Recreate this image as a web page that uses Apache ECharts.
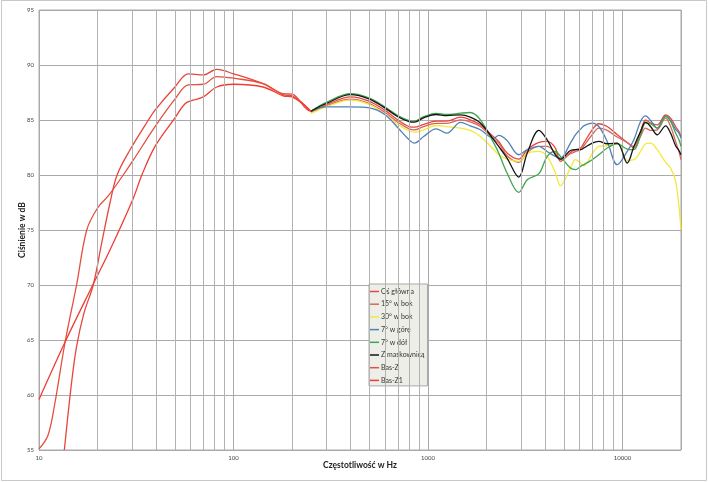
<!DOCTYPE html>
<html>
<head>
<meta charset="utf-8">
<script src="https://cdn.jsdelivr.net/npm/echarts@6/dist/echarts.min.js"></script>
<style>
  html, body { margin: 0; padding: 0; background: #fff; }
  #chart { width: 708px; height: 482px; }
</style>
</head>
<body>
<div id="chart"></div>
<script>
// bass region (Hz / dB)
const freqOsLow = [13.5, 14.7, 15.6, 17, 19, 21, 23.2, 25.2, 29.4, 36.5, 39.5, 50, 58.6, 70, 82, 100, 142, 180, 200];
const dbOsLow   = [55.0, 61.1, 64.4, 67.4, 70, 73.8, 77.5, 80, 82.3, 85, 85.9, 88.0, 89.2, 89.1, 89.6, 89.2, 88.3, 87.4, 87.35];
const freqBasZ  = [10, 11.1, 12, 13.6, 15.6, 17.6, 20, 22.7, 27.1, 30.4, 39.5, 50, 58.6, 70, 82, 100, 142, 180, 200, 250];
const dbBasZ    = [55.1, 56.3, 59, 64.75, 70, 75, 77.0, 78.1, 80, 81.3, 84.4, 86.9, 88.2, 88.25, 88.95, 88.8, 88.3, 87.3, 87.2, 85.8];
const freqBasZ1 = [10, 13.6, 18.9, 23.2, 30.4, 33.8, 39.5, 50, 56.5, 62, 70, 82, 100, 142, 180, 200, 250];
const dbBasZ1   = [59.6, 64.8, 70, 73.2, 77.8, 80, 82.6, 85.2, 86.5, 86.8, 87.1, 88.0, 88.25, 88.0, 87.2, 87.1, 85.8];

// mid / high region, shared frequency points
const freqMid = [250, 300, 400, 500, 600, 700, 800, 850, 950, 1100, 1250,
  1470, 1650, 1860, 2180, 2310, 2550, 2930, 3240, 3720, 4100, 4520, 4800, 5400, 5740, 6090, 6330,
  6990, 7560, 8350, 9400, 10580, 11450, 12390, 13150, 13950, 15100, 16670, 17680, 18760, 19520, 20000];
const dbOs = [85.8, 86.4, 87.1, 86.7, 85.9, 85.0, 84.4, 84.35, 84.6, 84.9, 84.9,
  85.26, 85.02, 84.56, 83.45, 83.05, 82.0, 81.45, 82.3, 82.96, 83.05, 82.45, 81.24, 82.05, 82.3, 82.45, 82.9,
  84.11, 84.66, 84.41, 83.66, 82.96, 82.6, 83.96, 85.02, 84.72, 84.56, 85.47, 85.17, 84.41, 83.96, 83.5];
const db15 = [85.7, 86.3, 86.9, 86.5, 85.7, 84.8, 84.2, 84.1, 84.4, 84.7, 84.7,
  85.02, 84.84, 84.41, 83.26, 82.9, 81.75, 81.15, 82.05, 82.6, 82.6, 82.0, 81.39, 81.93, 82.14, 82.3, 82.66,
  83.66, 84.26, 84.05, 83.45, 82.96, 82.45, 83.51, 84.26, 84.05, 84.11, 85.17, 84.41, 83.05, 82.14, 81.39];
const db30 = [85.6, 86.2, 86.8, 86.4, 85.5, 84.6, 84.0, 83.9, 84.1, 84.5, 84.4,
  84.26, 84.05, 83.51, 82.3, 81.84, 81.45, 81.24, 81.99, 82.14, 81.69, 80.18, 79.03, 80.63, 81.39, 81.09, 80.84,
  81.93, 82.6, 82.66, 82.9, 81.33, 81.39, 82.14, 82.84, 82.9, 82.3, 81.15, 80.63, 79.42, 77.15, 75.04];
const dbUp = [85.8, 86.2, 86.2, 86.1, 85.5, 84.3, 83.2, 82.9, 83.5, 84.2, 83.8,
  84.78, 84.47, 84.11, 83.35, 83.6, 83.14, 81.84, 82.3, 82.6, 82.14, 81.69, 81.54, 82.9, 83.66, 84.17, 84.47,
  84.72, 84.41, 83.05, 80.94, 82.14, 83.2, 84.87, 85.38, 84.96, 84.26, 85.38, 84.96, 84.17, 83.81, 83.35];
const dbDown = [85.8, 86.6, 87.4, 87.0, 86.2, 85.4, 84.95, 84.9, 85.3, 85.6, 85.5,
  85.62, 85.68, 85.02, 82.9, 82.0, 80.18, 78.42, 79.57, 80.12, 81.69, 82.14, 81.69, 80.63, 80.48, 80.78, 80.94,
  81.39, 81.84, 82.45, 82.84, 82.36, 82.3, 83.66, 84.72, 84.66, 84.26, 85.32, 84.87, 83.81, 83.2, 82.6];
const dbGrill = [85.8, 86.5, 87.3, 86.9, 86.1, 85.3, 84.85, 84.8, 85.2, 85.5, 85.4,
  85.47, 85.26, 84.72, 83.2, 82.6, 81.54, 79.81, 82.0, 84.05, 83.2, 81.84, 81.45, 82.23, 82.3, 82.3, 82.45,
  82.9, 83.05, 82.84, 82.9, 81.09, 82.6, 83.96, 84.81, 84.41, 83.66, 84.47, 83.81, 82.66, 82.23, 81.84];

const minorFreqs = [20, 30, 40, 50, 60, 70, 80, 90, 200, 300, 400, 500, 600, 700, 800, 900,
  2000, 3000, 4000, 5000, 6000, 7000, 8000, 9000];

const pairs = (f, v) => f.map((x, i) => [x, v[i]]);

const chart = echarts.init(document.getElementById('chart'));

function curve(name, color, data) {
  return {
    name: name, type: 'line', data: data,
    smooth: 0.35, showSymbol: false, symbol: 'none',
    lineStyle: {color: color, width: 1.3}, itemStyle: {color: color},
    animation: false, z: 3
  };
}

const option = {
  animation: false,
  grid: {left: 39, right: 27, top: 10, bottom: 32, show: true, borderColor: '#aaaaaa', borderWidth: 1},
  graphic: [{
    type: 'rect', silent: true, z: -1,
    shape: {x: 1.5, y: 0.5, width: 705, height: 480},
    style: {fill: 'none', stroke: '#c8c8c8', lineWidth: 1}
  }],
  legend: {
    orient: 'vertical', left: 369, top: 284,
    padding: [3.5, 3, 1.5, 1],
    itemGap: 4.7, itemWidth: 9, itemHeight: 1.5, icon: 'rect',
    backgroundColor: '#eeeee9', borderColor: '#a8a8a8', borderWidth: 1,
    textStyle: {fontFamily: 'Lato', fontSize: 7, color: '#333', lineHeight: 8, padding: [0, 0, 0, -3]},
    data: ['Oś główna', '15° w bok', '30° w bok', '7° w górę', '7° w dół', 'Z maskownicą', 'Bas-Z', 'Bas-Z1']
  },
  xAxis: {
    type: 'log', logBase: 10, min: 10, max: 20000,
    name: 'Częstotliwość w Hz', nameLocation: 'middle', nameGap: 11, nameMoveOverlap: false,
    nameTextStyle: {fontFamily: 'Lato', fontWeight: 'bold', fontSize: 8.5, color: '#222'},
    axisLine: {show: false}, axisTick: {show: false},
    axisLabel: {fontFamily: 'Lato', fontSize: 6, color: '#444', margin: 5, showMaxLabel: false,
      formatter: v => String(Math.round(v))},
    splitLine: {show: true, lineStyle: {color: '#aaaaaa', width: 1}},
    minorSplitLine: {show: false}
  },
  yAxis: {
    type: 'value', min: 55, max: 95, interval: 5,
    name: 'Ciśnienie w dB', nameLocation: 'middle', nameGap: 12, nameRotate: 90, nameMoveOverlap: false,
    nameTextStyle: {fontFamily: 'Lato', fontWeight: 'bold', fontSize: 8.5, color: '#222'},
    axisLine: {show: false}, axisTick: {show: false},
    axisLabel: {fontFamily: 'Lato', fontSize: 6, color: '#444', margin: 5},
    splitLine: {show: true, lineStyle: {color: '#aaaaaa', width: 1}}
  },
  series: [
    {
      type: 'line', data: [], z: 1, silent: true,
      markLine: {
        silent: true, symbol: 'none', animation: false,
        label: {show: false},
        lineStyle: {color: '#b2b2b2', width: 1, type: 'solid'},
        emphasis: {disabled: true},
        data: minorFreqs.map(f => ({xAxis: f}))
      }
    },
    curve('Oś główna', '#e8463c', pairs(freqOsLow, dbOsLow).concat(pairs(freqMid, dbOs))),
    curve('15° w bok', '#d9645e', pairs(freqMid, db15)),
    curve('30° w bok', '#f2ea3a', pairs(freqMid, db30)),
    curve('7° w górę', '#4f81b8', pairs(freqMid, dbUp)),
    curve('7° w dół', '#3ea64c', pairs(freqMid, dbDown)),
    curve('Z maskownicą', '#141414', pairs(freqMid, dbGrill)),
    curve('Bas-Z', '#e4503f', pairs(freqBasZ, dbBasZ)),
    curve('Bas-Z1', '#f03c32', pairs(freqBasZ1, dbBasZ1))
  ]
};

chart.setOption(option);
</script>
</body>
</html>
